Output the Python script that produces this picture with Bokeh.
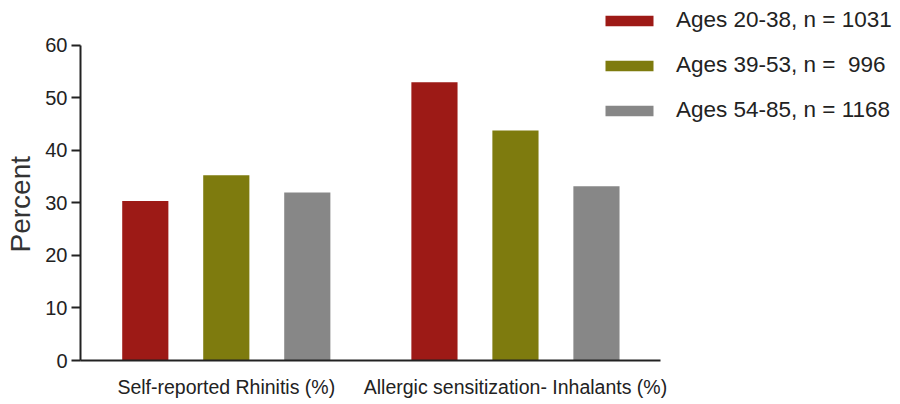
from bokeh.plotting import figure
from bokeh.models import ColumnDataSource, Range1d, Legend, LegendItem, FixedTicker, Title
from bokeh.embed import file_html
from bokeh.resources import INLINE

# ---- data ----
categories = ["Self-reported Rhinitis (%)", "Allergic sensitization- Inhalants (%)"]
series_labels = ["Ages 20-38, n = 1031", "Ages 39-53, n =  996", "Ages 54-85, n = 1168"]
ages_20_38 = [30.4, 53.0]
ages_39_53 = [35.3, 43.8]
ages_54_85 = [32.0, 33.2]
y_ticks = [0, 10, 20, 30, 40, 50, 60]
y_title = "Percent"

colors = ["#9D1A16", "#7E7B0E", "#878787"]
series = [ages_20_38, ages_39_53, ages_54_85]

# layout of groups on a numeric axis
group_pos = [1.80, 5.37]
offsets = [-1.0, 0.0, 1.0]
bar_w = 0.57
x_axis_end = 7.16
y_axis_end = 60

FONT = "Liberation Sans"

p = figure(width=892, height=400, output_backend="svg", toolbar_location=None,
           x_range=Range1d(0, 10.025), y_range=Range1d(0, 68.57),
           min_border_left=80, min_border_right=0, min_border_top=0, min_border_bottom=40)
p.outline_line_color = None
p.grid.grid_line_color = None
p.background_fill_color = "white"
p.border_fill_color = "white"

renderers = []
for vals, off, col in zip(series, offsets, colors):
    src = ColumnDataSource(dict(x=[g + off for g in group_pos], top=vals))
    r = p.vbar(x="x", top="top", width=bar_w, bottom=0, source=src,
               fill_color=col, line_color=None)
    renderers.append(r)

# y axis
ya = p.yaxis[0]
ya.bounds = (0, y_axis_end)
ya.ticker = FixedTicker(ticks=y_ticks)
ya.minor_tick_line_color = None
ya.major_tick_in = 0
ya.major_tick_out = 9
ya.major_tick_line_width = 2
ya.major_tick_line_color = "#222222"
ya.axis_line_width = 2
ya.axis_line_color = "#222222"
ya.major_label_text_font = FONT
ya.major_label_text_font_size = "20px"
ya.major_label_text_color = "#222222"
ya.major_label_standoff = 4

# y title placed beside the axis (offset measured up from the frame bottom)
p.add_layout(Title(text=y_title, align="left", offset=108, standoff=9,
                   vertical_align="top",
                   text_font=FONT, text_font_size="28px", text_font_style="normal",
                   text_color="#333333"), "left")

# x axis
xa = p.xaxis[0]
xa.bounds = (0, x_axis_end)
xa.ticker = FixedTicker(ticks=group_pos)
xa.major_label_overrides = {group_pos[i]: categories[i] for i in range(2)}
xa.major_tick_line_color = None
xa.major_tick_in = 0
xa.major_tick_out = 0
xa.minor_tick_line_color = None
xa.axis_line_width = 2
xa.axis_line_color = "#222222"
xa.major_label_text_font = FONT
xa.major_label_text_font_size = "19.5px"
xa.major_label_text_color = "#222222"
xa.major_label_standoff = 15

legend = Legend(items=[LegendItem(label=lab, renderers=[r]) for lab, r in zip(series_labels, renderers)],
                location=(519, 237), orientation="vertical",
                glyph_width=60, glyph_height=13, label_standoff=17,
                label_text_font=FONT, label_text_font_size="22.5px", label_text_color="#222222",
                spacing=19, padding=0, margin=0,
                border_line_color=None, background_fill_alpha=0)
p.add_layout(legend, "center")

open("out.html", "w").write(file_html(p, INLINE))
